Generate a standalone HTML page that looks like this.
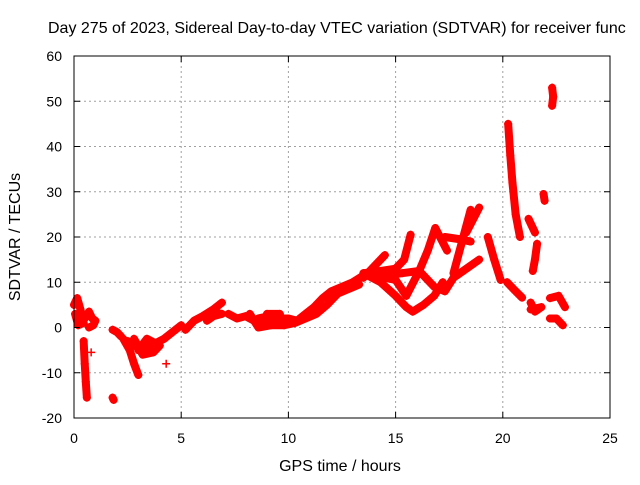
<!DOCTYPE html>
<html><head><meta charset="utf-8"><style>
body{margin:0;background:#fff;}
svg text{font-family:"Liberation Sans",sans-serif;font-size:14px;fill:#000;}
svg text.big{font-size:16px;}
</style></head><body>
<svg id="chart" width="640" height="480" viewBox="0 0 640 480" xmlns="http://www.w3.org/2000/svg">
<rect width="640" height="480" fill="#fff"/>
<text class="big" x="48" y="33">Day 275 of 2023, Sidereal Day-to-day VTEC variation (SDTVAR) for receiver func</text>
<g id="grid"></g>
<g id="marks"></g>
<rect x="74" y="56" width="536" height="362" fill="none" stroke="#000" stroke-width="1"/>
<g id="ticks"></g>
<text class="big" transform="translate(20,237) rotate(-90)" text-anchor="middle">SDTVAR / TECUs</text>
<text class="big" x="340" y="471" text-anchor="middle">GPS time / hours</text>
</svg>
<script>
const xTicks=[0,5,10,15,20,25];
const yTicks=[-20,-10,0,10,20,30,40,50,60];
const track1=[[0,5],[0.15,6.5],[0.3,4],[0.45,1],[0.2,0.5],[0.05,3]];
const track2=[[0.5,2],[0.7,3.5],[0.85,2],[1.0,1.5],[0.9,0.5],[0.7,0]];
const track3=[[0.45,-3],[0.5,-8],[0.55,-12],[0.6,-15.5]];
const track4=[[0.8,-5.5]];
const track5=[[1.8,-0.5],[2.0,-1],[2.2,-2]];
const track6=[[1.8,-15.5],[1.85,-16]];
const track7=[[2.3,-2.5],[2.6,-5],[2.8,-8],[3.0,-10.5]];
const track8=[[2.5,-3],[3.0,-4.5],[3.5,-4],[3.8,-3.5],[4.2,-2.5],[4.6,-1],[5,0.5]];
const track9=[[2.8,-2.5],[3.2,-6],[3.7,-5.5],[4.0,-4],[3.4,-2.5],[3.0,-5]];
const track10=[[4.3,-8]];
const track11=[[5.2,-0.5],[5.6,1.5],[6.0,2.5],[6.5,4],[6.9,5.5]];
const track12=[[6.2,1.5],[6.5,2.5],[6.9,3],[6.4,3.5]];
const track13=[[7.2,3],[7.6,2],[8.0,2.5],[8.4,1.5],[8.8,1],[9.2,1.5],[9.6,2],[10.0,2],[10.4,1.5],[10.8,3],[11.2,4.5],[11.6,6.5],[12.0,8],[12.5,9],[13.0,10],[13.5,11.5]];
const track32=[[8.2,3],[8.6,0],[9.2,0.5],[9.8,0.5],[10.3,1],[10.8,2],[11.3,3],[11.8,5],[12.3,7.5],[12.8,8.5],[13.3,9.5]];
const track33=[[9.0,3],[9.6,3],[8.6,2]];
const track14=[[13.5,11],[14.0,13.5],[14.5,16]];
const track15=[[13.5,12],[14.3,12.5],[15.0,13],[15.4,15],[15.7,20.5]];
const track16=[[13.5,12],[14.3,10],[15.0,7],[15.5,4.5],[15.8,3.5],[16.3,5],[16.8,7],[17.2,10]];
const track17=[[14.0,11.5],[15.0,10.5],[15.5,7],[16.1,12.5],[16.5,17],[16.85,22],[17.4,17]];
const track18=[[14.5,11.5],[15.3,12],[16.1,12.5],[16.8,9],[17.3,8],[17.7,11],[18.3,13],[18.9,15]];
const track19=[[17.3,20],[18.0,19.5],[18.5,19]];
const track20=[[17.7,12],[18.1,19],[18.5,26]];
const track21=[[18.3,21],[18.9,26.5]];
const track22=[[19.3,20],[19.6,15],[19.9,10.5]];
const track23=[[20.2,10],[20.5,8.5],[20.9,6.6]];
const track24=[[20.25,45],[20.35,38],[20.45,32],[20.6,25],[20.8,20]];
const track25=[[21.2,24],[21.5,21]];
const track26=[[21.9,29.5],[21.95,28]];
const track27=[[21.6,18.5],[21.5,15],[21.4,12.5]];
const track28=[[21.3,5.5],[21.5,3.5],[21.8,4.5],[21.3,4]];
const track29=[[22.2,6.5],[22.6,7],[22.9,4.5]];
const track30=[[22.2,2],[22.5,2],[22.8,0.5]];
const track31=[[22.3,49],[22.35,51],[22.3,53]];
const tracks=[track1,track2,track3,track4,track5,track6,track7,track8,track9,track10,track11,track12,track13,track32,track33,track14,track15,track16,track17,track18,track19,track20,track21,track22,track23,track24,track25,track26,track27,track28,track29,track30,track31];
const NS="http://www.w3.org/2000/svg";
function sx(t){return 74+t*(536/25);}
function sy(v){return 418-(v+20)*(362/80);}
const grid=document.getElementById('grid'),ticks=document.getElementById('ticks'),marks=document.getElementById('marks');
xTicks.forEach(t=>{
 const x=sx(t);
 if(t>0&&t<25){const l=document.createElementNS(NS,'line');
 
 
 l.setAttribute('x1',x);l.setAttribute('x2',x);l.setAttribute('y1',56);l.setAttribute('y2',418);l.setAttribute('stroke','#a0a0a0');l.setAttribute('stroke-dasharray','2,3');grid.appendChild(l);}
 const k=document.createElementNS(NS,'path');
 
 
 k.setAttribute('d',`M${x},418v-6M${x},56v6`);k.setAttribute('stroke','#000');ticks.appendChild(k);
 const tx=document.createElementNS(NS,'text');
 
 
 tx.setAttribute('x',x);tx.setAttribute('y',443);tx.setAttribute('text-anchor','middle');tx.textContent=t;ticks.appendChild(tx);
});
yTicks.forEach(v=>{
 const y=sy(v);
 if(v>-20&&v<60){const l=document.createElementNS(NS,'line');
 
 
 l.setAttribute('x1',74);l.setAttribute('x2',610);l.setAttribute('y1',y);l.setAttribute('y2',y);l.setAttribute('stroke','#a0a0a0');l.setAttribute('stroke-dasharray','2,3');grid.appendChild(l);}
 const k=document.createElementNS(NS,'path');
 
 
 k.setAttribute('d',`M74,${y}h6M610,${y}h-6`);k.setAttribute('stroke','#000');ticks.appendChild(k);
 const tx=document.createElementNS(NS,'text');
 
 
 tx.setAttribute('x',62);tx.setAttribute('y',y+5);tx.setAttribute('text-anchor','end');tx.textContent=v;ticks.appendChild(tx);
});
tracks.forEach(tr=>{
 if(tr.length>1){const p=document.createElementNS(NS,'polyline');
 
 
 p.setAttribute('points',tr.map(d=>sx(d[0])+','+sy(d[1])).join(' '));
 p.setAttribute('fill','none');p.setAttribute('stroke','#ff0000');p.setAttribute('stroke-width','8');p.setAttribute('stroke-linejoin','round');p.setAttribute('stroke-linecap','round');marks.appendChild(p);}
 tr.forEach(d=>{const m=document.createElementNS(NS,'path');
 
 
 const x=sx(d[0]),y=sy(d[1]);
 m.setAttribute('d',`M${x-4},${y}h8M${x},${y-4}v8`);m.setAttribute('stroke','#ff0000');m.setAttribute('stroke-width','1.5');marks.appendChild(m);});
});
</script>
</body></html>
